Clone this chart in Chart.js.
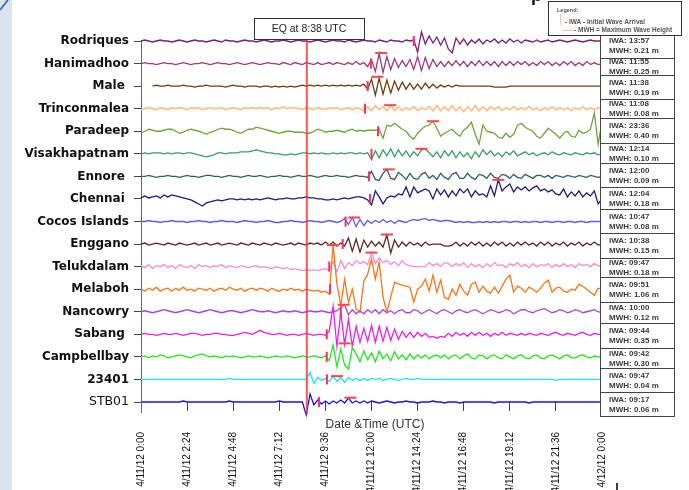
<!DOCTYPE html>
<html>
<head>
<meta charset="utf-8">
<title>Tide gauge records - 11 April 2012</title>
<script src="https://cdn.jsdelivr.net/npm/chart.js@4.4.0/dist/chart.umd.min.js"></script>
<style>
    html, body { margin: 0; padding: 0; background: #fff; }
    #wrap { position: relative; width: 689px; height: 490px; overflow: hidden; }
</style>
</head>
<body>
<div id="wrap"><canvas id="chart" width="689" height="490"></canvas></div>
<script>
// ---- data ----
// stations, top to bottom
const stations = ['Rodriques', 'Hanimadhoo', 'Male ', 'Trinconmalea', 'Paradeep', 'Visakhapatnam',
    'Ennore ', 'Chennai ', 'Cocos Islands', 'Enggano', 'Telukdalam', 'Melaboh', 'Nancowry',
    'Sabang ', 'Campbellbay', '23401', 'STB01'];

// x axis: hours since 4/11/12 0:00
const xTickHours = [0, 2.4, 4.8, 7.2, 9.6, 12, 14.4, 16.8, 19.2, 21.6, 24];
const xTickLabels = ['4/11/12 0:00', '4/11/12 2:24', '4/11/12 4:48', '4/11/12 7:12', '4/11/12 9:36',
    '4/11/12 12:00', '4/11/12 14:24', '4/11/12 16:48', '4/11/12 19:12', '4/11/12 21:36', '4/12/12 0:00'];
const EQ_HOUR = 8 + 38 / 60;
const STEP_HOURS = 0.2; // each series is sampled every 0.2 h from 0:00

// water level deviation of each record (one value per 0.2 h)
const rodriques = [
    0, 1, 0, -1, 0, 1, 0, 0, -1, 0,
    1, 0, -1, 0, 1, 0, 0, -1, 0, 1,
    0, -1, 1, 0, 0, -1, 0, 1, 0, 0,
    -1, 0, 1, 0, -1, 0, 0, 1, 0, -1,
    0, 1, 0, 0, -1, 0, 1, 0, -1, 0,
    1, 0, 0, -1, 1, 0, -1, 0, 1, 0,
    0, -1, 1, 0, -1, 1, 0, 0, -1, 1,
    0, 1, -11, 9, -3, 5, -2, 4, -4, 3,
    -8, -12, 3, -3, 2, -4, 1, -2, 2, -3,
    1, -1, 2, -2, 1, -2, 2, -1, 1, -2,
    1, 0, -1, 1, -1, 0, 1, -1, 0, 1,
    0, -1, 0, 1, 0, -1, 0, 1, 0, 0,
    0];
const hanimadhoo = [
    0, 1, 0, 0, -1, 0, 1, 0, 0, -1,
    0, 1, 0, -1, 0, 0, 1, 0, -1, 0,
    1, 0, 0, -1, 0, 1, 0, -1, 0, 1,
    0, -1, 0, 1, 0, 0, -1, 1, 0, -1,
    1, 0, -1, 1, 0, -1, 1, -1, 0, 1,
    -1, 1, 0, -1, 1, -1, 2, -1, 1, -3,
    4, -8, 10, -9, 7, -6, 5, -4, 3, -3,
    4, -6, 7, -7, 6, -5, 4, -3, 2, -3,
    2, -2, 3, -2, 2, -3, 2, -2, 3, -2,
    2, -2, 2, -3, 2, -2, 2, -2, 2, -1,
    2, -2, 1, -2, 2, -1, 2, -2, 1, -2,
    2, -1, 2, -2, 1, -2, 2, -1, 1, -1,
    0];
const male = [
    null, null, null, 0, 1, 0, 0, 1, 0, 0,
    0, 1, 0, 0, -1, 0, 0, 1, 0, 0,
    0, 0, -1, 0, 1, 0, 0, -1, 0, 0,
    0, -1, 0, 0, -1, 0, -1, 0, -1, 0,
    -1, 0, 1, 0, 1, 0, 1, 0, 1, 0,
    1, 0, 1, 0, 1, 0, 1, 0, 2, -3,
    7, -9, 8, -8, 6, -7, 5, -4, 4, -3,
    3, -3, 2, -3, 3, -2, 2, -2, 1, -1,
    1, -1, 1, 0, 0, 0, 0, 0, 0, 0,
    0, 0, -1, -1, -1, -1, 0, 0, 0, 0,
    0, 0, 0, 0, 0, 0, 0, 0, 0, 0,
    0, 0, 0, 0, 0, 0, 0, 0, 0, 0,
    0];
const trinconmalea = [
    -1, 0, 1, 0, -1, 1, 0, -1, 1, 0,
    1, 0, -1, 1, 0, 1, -1, 0, 1, 0,
    0, 1, -1, 0, 1, 0, -1, 1, 0, 1,
    0, 1, 0, 1, -1, 1, 0, 2, 0, 1,
    1, 0, -1, 1, 0, -1, 1, 0, -1, 1,
    0, 1, -1, 0, 1, -1, 1, 0, -2, 2,
    -2, 3, -1, 2, -2, 3, -2, 2, -2, 1,
    -1, 2, -2, 1, -1, 2, -2, 3, -2, 2,
    -2, 3, -2, 2, -3, 2, -2, 3, -2, 2,
    -2, 2, -1, 2, -2, 1, -1, 2, -1, 1,
    -1, 2, -1, 1, -2, 1, -1, 2, -1, 1,
    -1, 1, -2, 1, -1, 2, -1, 1, -1, 1,
    0];
const paradeep = [
    -2, 0, 2, 1, 0, 0, 1, 2, 2, 0,
    -2, -1, 1, 2, 1, 0, -1, -3, -1, 0,
    2, 3, 2, 2, 1, -1, -2, 0, 2, 2,
    4, 3, 2, 1, 0, -1, -2, -1, 0, 0,
    -1, -1, -1, -2, -2, 0, 2, 1, -1, 0,
    0, 1, 0, -1, 1, 2, 0, 1, 0, 1,
    1, 1, 2, -7, 6, 5, 8, 5, 2, 0,
    -5, -8, -2, 2, 5, 6, 10, 3, -5, -2,
    0, 2, -2, -5, 1, 4, 9, -3, -13, 6,
    0, -1, -2, -6, -7, -2, -6, -3, 6, 8,
    4, 2, 0, -5, -7, -2, 3, 0, -3, -7,
    -2, 0, -5, -6, 1, -2, -1, 2, 18, -13,
    10];
const visakhapatnam = [
    0, 1, 0, 1, 1, 1, 0, 1, 0, 1,
    1, 0, 1, 1, 0, -1, -2, -3, -2, -1,
    1, 1, 0, 1, 1, 1, 2, 2, 2, 3,
    4, 3, 2, 1, 1, 0, 0, -1, -1, 0,
    -1, 0, 1, 1, 0, 1, 0, 1, 0, 0,
    1, 0, 1, 0, 1, 1, 0, 1, 0, 1,
    -6, 3, -4, 4, -2, 5, -3, 4, -2, 3,
    -3, 2, -2, 4, 5, 1, -3, 2, -4, 3,
    -2, 3, -4, 2, -3, 1, -5, 2, -3, 4,
    -1, 3, -2, 1, -3, 2, -1, 3, -2, 0,
    2, -1, 1, -2, 0, 1, -1, 2, 0, -1,
    1, 0, -1, 1, 0, -1, 1, 0, 1, -1,
    0];
const ennore = [
    0, 0, 1, 0, -1, 0, 0, 1, 0, 0,
    -1, 0, 1, 0, 0, -1, 0, 1, 1, 0,
    0, -1, 0, 1, 0, 0, -1, 0, 1, 0,
    0, 1, 0, -1, 0, 0, 1, 0, 0, -1,
    0, 1, 0, 0, 1, 0, -1, 0, 1, 0,
    0, 1, 0, 0, -1, 0, 1, 0, 0, -1,
    5, -3, -4, 3, 7, -2, -3, 4, 1, -3,
    3, -2, -3, 2, 4, -2, 1, -3, 3, -1,
    -3, 2, 4, -2, -2, 3, -1, -3, 2, 1,
    -2, 3, -1, -2, 2, 1, -2, 2, -1, -2,
    2, 0, -2, 1, 1, -1, 1, -2, 1, 0,
    -1, 1, 0, -1, 1, 0, -1, 1, 0, -1,
    0];
const chennai = [
    1, 3, 1, 2, 3, 1, 4, 2, 4, 3,
    2, 1, 0, -1, -3, -5, -7, -4, -3, -2,
    -1, -2, -1, 0, 0, -1, 0, -1, 0, -1,
    0, -1, 0, 1, 0, -1, 0, 0, 1, 0,
    0, 1, 1, 2, 1, 1, 0, 0, -1, -1,
    0, -1, 0, 1, 0, 1, 2, 2, 1, -1,
    -6, 8, 2, -5, 1, 3, 2, 5, 4, 12,
    2, 12, 6, 8, 10, 8, 0, 10, 4, 9,
    2, 8, 3, 10, 6, 10, 2, 8, 4, 5,
    2, 13, 3, 19, 8, 12, 15, 7, 12, 9,
    12, 8, 11, 13, 8, 10, 7, 9, 5, 4,
    10, 2, 7, 3, 8, 2, 6, 3, 8, -5,
    0];
const cocosIslands = [
    0, 0, 1, 0, 0, -1, 0, 0, 1, 0,
    0, 0, -1, 0, 0, 1, 0, 0, -1, 0,
    0, 1, 0, 0, 0, -1, 0, 1, 0, 0,
    -1, 0, 0, 1, 0, -1, -1, 0, 0, 1,
    0, 0, -1, 0, 1, 0, 0, -1, 0, 1,
    0, -1, 0, 3, -3, 4, -5, 2, -4, 1,
    -2, 1, -1, 2, -1, 1, -2, 1, 0, -1,
    1, 2, 1, 2, 3, 1, 2, 1, 0, 1,
    1, 0, -1, 0, -1, 0, -1, -1, 0, -1,
    0, -1, 0, -1, 0, 0, -1, 0, 0, -1,
    0, -1, 0, 0, -1, 0, 0, -1, 0, 0,
    -1, 0, 0, -1, 0, 0, -1, 0, 0, 0,
    0];
const enggano = [
    0, 1, -1, 0, 1, 0, -1, 1, 0, -1,
    1, 0, -1, 0, 1, -1, 0, 1, -1, 0,
    1, -1, 0, 1, 0, -1, 1, 0, -1, 1,
    0, -1, 1, 0, -1, 1, 0, -1, 0, 1,
    -1, 1, 0, -1, 1, 0, 1, -1, 2, -1,
    2, -2, 1, -2, 6, -7, 5, -8, 4, -3,
    3, -2, 2, -3, 9, -9, 4, -3, 2, -2,
    2, -1, 1, -2, 2, -1, 0, 0, 0, -2,
    -2, -1, 2, -2, 1, -2, 2, -1, 2, -2,
    1, -2, 2, -1, 2, -2, 1, -2, 2, -1,
    2, -1, 1, -2, 2, -1, 2, -2, 1, -1,
    2, -2, 1, -1, 2, -2, 1, -1, 2, -1,
    0];
const telukdalam = [
    1, -1, 2, -2, 1, 0, 2, -1, 1, -2,
    2, 0, -1, 1, -2, 2, 0, 1, -1, 1,
    0, 2, -1, 1, 0, -1, 1, 0, -1, 0,
    1, -1, 0, -1, -2, 0, -1, -2, -1, -3,
    -2, -3, -4, -3, -4, -3, -4, -3, -2, -4,
    5, -5, 6, -2, 4, 1, 6, 3, 5, 2,
    14, 3, 9, 4, 6, 2, 5, 1, 6, 2,
    1, 0, 0, 0, 0, 4, 1, 3, 0, 4,
    3, 0, 3, 1, 4, -1, 3, 0, 2, -1,
    3, 0, 4, 1, 2, -1, 3, 1, 4, 0,
    2, -1, 3, 0, 2, 1, 3, -1, 2, 0,
    3, 0, 2, -1, 3, 1, 2, 0, 3, 1,
    0];
const melaboh = [
    0, -2, 1, -1, 2, -2, 0, 1, -2, 1,
    -1, 2, -1, 0, -2, 1, 0, -1, 1, -2,
    0, 1, -1, 2, 0, -1, 1, -2, 0, 1,
    -1, 1, 0, -2, 1, -1, -2, 0, -1, 1,
    -1, 0, -2, 0, -1, -2, -1, -3, -2, -5,
    44, 5, -16, 10, -13, 0, -20, -23, 8, 15,
    30, 10, 27, -8, -23, -8, 7, 5, 4, 3,
    2, -13, 0, 3, 10, -2, 14, -3, 9, -8,
    -10, 0, -6, 5, -2, -6, 5, 7, -3, 3,
    -2, -4, 2, -4, 3, 10, 14, -3, 3, 1,
    -3, 2, 0, -3, 1, 6, 9, -3, 1, 2,
    -2, -3, 0, -1, 5, 3, 0, -3, -6, 1,
    0];
const nancowry = [
    0, 1, 0, -1, 0, 1, 2, 1, 0, -1,
    0, 1, 2, 1, 0, -1, 0, 1, 2, 1,
    0, -1, 0, 1, 1, 0, -1, 0, 1, 2,
    1, 0, 0, 1, 0, -1, 0, 1, 0, 0,
    1, 0, -1, 0, 1, 0, 0, 1, 0, -1,
    0, 1, 4, 7, -3, 2, -2, 1, -2, 2,
    -1, 2, -2, 2, -1, 1, -2, 1, 2, -1,
    -1, 2, 1, -2, 0, 2, 0, -2, 1, 2,
    0, -2, 1, 2, 0, -1, 1, 2, 0, -2,
    0, 2, 1, -1, 0, 2, 1, -2, 0, 2,
    2, 0, -1, 1, 2, 3, 1, -1, 0, 2,
    1, -1, 0, 2, 1, -1, 0, 1, 2, 0,
    -1];
const sabang = [
    0, 1, 0, 0, -1, 0, 1, 0, 0, 1,
    0, -1, 0, 1, 1, 0, -1, 0, 0, 1,
    1, 0, 0, -1, -1, 0, 1, 2, 1, 0,
    2, 4, 2, 1, 0, 0, 1, 0, -1, 0,
    0, -1, 0, 1, 0, -1, 0, 0, -1, 3,
    28, -12, 22, -10, 15, -12, 8, -8, 6, -7,
    9, -8, 8, -7, 7, -6, 5, -5, 3, -3,
    2, -3, 2, -2, 1, -3, -2, -4, -2, -3,
    1, -2, 2, -1, 1, -2, 2, -1, 2, -1,
    1, -2, 1, -1, 2, -1, 1, 0, -1, 1,
    -1, 1, 0, -1, 1, 0, -1, 1, 2, 0,
    -1, 1, 0, -1, 1, 2, 0, -1, 1, 0,
    0];
const campbellbay = [
    0, 1, -1, 1, 0, 2, 1, -1, 0, 1,
    2, 1, 0, -1, 1, 2, 3, 1, 0, 1,
    0, -1, 1, 0, 1, 0, -1, 0, 1, 0,
    0, 1, 0, -1, 0, 1, 0, 0, 1, 0,
    -1, 0, 1, 0, 0, 1, 0, -1, 1, -4,
    12, -10, 8, -8, -12, 9, 3, -5, 6, -3,
    4, -5, 6, -2, 3, -4, 5, -2, 2, -3,
    3, -2, 2, -1, 2, -2, 1, 2, -1, 2,
    -2, 1, 2, -2, 1, 3, -1, -2, 2, 1,
    -2, 1, 2, -1, -2, 2, 0, -2, 1, 2,
    -1, -2, 1, 2, -1, -2, 1, 2, 0, -2,
    1, 2, -1, -1, 1, 2, 0, -1, 1, 0,
    0];
const buoy23401 = [
    0, 0, 0, 0, 0, 0, 0, 0, 0, 0,
    0, 0, 0, 0, 0, 0, 0, 0, 0, 0,
    0, 0, 0, 1, 0, 0, 0, 0, 0, 0,
    0, 0, 0, 0, 0, 0, 0, 0, 0, 0,
    0, 0, 0, 0, 7, -4, 2, -1, 1, -2,
    3, -2, 2, -3, 2, -1, 1, -1, 1, -1,
    1, 0, 1, -1, 0, 1, 0, -1, 0, 1,
    0, 0, 1, 0, 0, 0, 0, 0, 0, 0,
    0, 0, 0, 0, 0, 0, 0, 0, 0, 0,
    0, 0, 0, 0, 0, 0, 0, 0, 0, 0,
    0, 0, 0, 0, 0, 0, 0, 0, -1, 0,
    0, 0, 0, 0, 0, 0, 0, 0, 0, 0,
    0];
const stb01 = [
    0, 0, 0, 0, 0, 0, 0, 0, 0, 0,
    0, 1, 0, 0, 0, 0, 0, 0, 0, 0,
    0, 0, 0, 1, 0, 0, 0, 0, 0, 0,
    0, 0, 0, 0, 0, 0, 1, 0, 0, 0,
    0, 0, 0, -13, 8, -3, 2, -2, 1, -2,
    1, -1, 2, -1, 4, -1, 1, -1, 1, -1,
    1, 0, -1, 0, 1, 0, -1, 0, 0, 1,
    0, 0, -1, 0, 0, 0, 1, 0, 0, -1,
    0, 0, 0, -1, 0, 0, 0, 0, 0, 0,
    0, 0, -1, 0, 0, 0, 0, 0, 0, 0,
    0, -1, 0, 0, 0, 0, 0, 0, 0, 0,
    0, 0, 0, 0, 0, 0, 0, 0, 0, 0,
    0];

const series = [rodriques, hanimadhoo, male, trinconmalea, paradeep, visakhapatnam, ennore, chennai,
    cocosIslands, enggano, telukdalam, melaboh, nancowry, sabang, campbellbay, buoy23401, stb01];

// where the red marks sit on each record (hours, deviation)
const iwaMarkHour = [14.2, 11.97, 11.8, 11.66, 12.34, 12.0, 11.87, 11.92, 10.65, 10.5, 9.8, 9.84, 10.4, 9.67, 9.67, 9.68, 9.27];
const mwhMarkHour = [14.6, 12.5, 12.3, 12.97, 15.2, 14.6, 12.9, 18.6, 11.1, 12.8, 12.0, 10.0, 10.55, 10.6, null, 10.2, 10.9];
const mwhMarkDev = [9.5, 10.5, 9.3, 3.5, 10, 5, 7, 19, 4, 9.5, 14, 44, 7, -9, null, 3.3, 4.3];

// text in the boxes on the right
const iwaText = ['13:57', '11:55', '11:38', '11:08', '23:36', '12:14', '12:00', '12:04', '10:47',
    '10:38', '09:47', '09:51', '10:00', '09:44', '09:42', '09:47', '09:17'];
const mwhText = ['0.21', '0.25', '0.19', '0.08', '0.40', '0.10', '0.09', '0.18', '0.08',
    '0.15', '0.18', '1.06', '0.12', '0.35', '0.30', '0.04', '0.06'];

// ---- styles / layout ----
const lineColors = ['#7a1f7a', '#a03a78', '#6e3c0e', '#fbbf88', '#72a53a', '#3c9e64', '#2f6262', '#1c1c82',
    '#5b5bf5', '#5e2626', '#ff8cc6', '#ff7414', '#aa44dd', '#ee1eee', '#1eea1e', '#1ee6ee', '#1414f0'];
const SPACING = 22.5;
const TOP_VALUE = (stations.length - 1) * SPACING;
const baseOf = i => (stations.length - 1 - i) * SPACING;
const BOX_EDGES = [33, 58, 75, 99, 118, 143, 163, 187, 209, 233, 258, 277, 302, 323, 348, 368, 392, 416];

const traceSets = series.map((dev, i) => ({
    type: 'line',
    label: stations[i].trim(),
    data: dev.map((v, k) => ({ x: k * STEP_HOURS, y: v === null ? null : baseOf(i) + v })),
    borderColor: lineColors[i],
    borderWidth: i === 3 ? 1.7 : 1.3,
    pointRadius: 0,
    tension: 0,
    spanGaps: false,
    clip: false,
    order: stations.length - i
}));

const iwaSet = {
    type: 'scatter',
    label: 'IWA',
    data: iwaMarkHour.map((h, i) => ({ x: h, y: baseOf(i) })),
    pointStyle: 'line',
    rotation: 90,
    pointRadius: 5,
    pointBorderWidth: 2,
    pointBorderColor: '#ff2a6a',
    borderColor: '#ff2a6a',
    clip: false,
    order: -1
};
const mwhSet = {
    type: 'scatter',
    label: 'MWH',
    data: mwhMarkHour.map((h, i) => h === null ? null : ({ x: h, y: baseOf(i) + mwhMarkDev[i] })).filter(p => p),
    pointStyle: 'line',
    pointRadius: 6,
    pointBorderWidth: 2,
    pointBorderColor: '#ff4545',
    borderColor: '#ff4545',
    clip: false,
    order: -2
};

// boxes, labels and frame drawn on top of the chart
const decorPlugin = {
    id: 'decor',
    beforeDraw(chart) {
        const ctx = chart.ctx;
        ctx.save();
        ctx.fillStyle = '#fff';
        ctx.fillRect(0, 0, chart.width, chart.height);
        // slide frame on the left
        ctx.fillStyle = '#dae3ef';
        ctx.fillRect(0, 0, 12, chart.height);
        ctx.strokeStyle = '#4a72b0';
        ctx.lineWidth = 2;
        ctx.beginPath();
        ctx.moveTo(0, 10);
        ctx.lineTo(8, 0);
        ctx.stroke();
        ctx.restore();
    },
    afterDatasetsDraw(chart) {
        const ctx = chart.ctx;
        const xs = chart.scales.x;
        const area = chart.chartArea;
        ctx.save();
        // y axis line continues a little below the last record
        ctx.strokeStyle = '#666';
        ctx.lineWidth = 1;
        ctx.beginPath();
        ctx.moveTo(area.left + 0.5, area.bottom);
        ctx.lineTo(area.left + 0.5, area.bottom + 11);
        ctx.stroke();

        // earthquake time
        const ex = xs.getPixelForValue(EQ_HOUR);
        ctx.strokeStyle = 'rgba(255, 55, 55, 0.85)';
        ctx.lineWidth = 2;
        ctx.beginPath();
        ctx.moveTo(ex, 39);
        ctx.lineTo(ex, area.bottom + 12);
        ctx.stroke();
        ctx.restore();
    },
    afterDraw(chart) {
        const ctx = chart.ctx;
        ctx.save();

        // EQ box
        ctx.fillStyle = '#fff';
        ctx.fillRect(254, 18, 110, 21);
        ctx.strokeStyle = '#333';
        ctx.lineWidth = 1;
        ctx.strokeRect(254.5, 18.5, 110, 21);
        ctx.fillStyle = '#222';
        ctx.font = '10.5px "Liberation Sans", Arial, sans-serif';
        ctx.textAlign = 'center';
        ctx.textBaseline = 'middle';
        ctx.fillText('EQ at 8:38 UTC', 309, 29.5);

        // IWA / MWH boxes
        ctx.textAlign = 'left';
        ctx.font = 'bold 8px "Liberation Sans", Arial, sans-serif';
        for (let i = 0; i < stations.length; i++) {
            const top = BOX_EDGES[i], bottom = BOX_EDGES[i + 1];
            const mid = (top + bottom) / 2;
            ctx.fillStyle = '#fff';
            ctx.fillRect(600, top, 74, bottom - top);
            ctx.strokeStyle = '#444';
            ctx.strokeRect(600.5, top + 0.5, 74, bottom - top);
            ctx.fillStyle = '#3a3a3a';
            ctx.fillText('IWA: ' + iwaText[i], 609, mid - 4.5);
            ctx.fillText('MWH: ' + mwhText[i] + ' m', 609, mid + 5.5);
        }

        // legend box
        ctx.fillStyle = '#fff';
        ctx.fillRect(548, 1, 133, 34);
        ctx.strokeStyle = '#333';
        ctx.strokeRect(548.5, 1.5, 133, 34);
        ctx.strokeStyle = '#f2c8b8';
        ctx.beginPath();
        ctx.moveTo(560.5, 14);
        ctx.lineTo(560.5, 25);
        ctx.moveTo(562, 30.5);
        ctx.lineTo(573, 30.5);
        ctx.stroke();
        ctx.fillStyle = '#555';
        ctx.font = 'bold 5.5px "Liberation Sans", Arial, sans-serif';
        ctx.fillText('Legend:', 557, 10);
        ctx.font = 'bold 6.5px "Liberation Sans", Arial, sans-serif';
        ctx.fillText('- IWA - Initial Wave Arrival', 565, 22);
        ctx.fillText('- MWH = Maximum Wave Height', 574, 30);

        // cut-off title at the very top
        ctx.fillStyle = '#111';
        ctx.font = 'bold 18px "Liberation Sans", Arial, sans-serif';
        ctx.textBaseline = 'alphabetic';
        ctx.fillText('p', 531, 1);

        // x axis title
        ctx.fillStyle = '#333';
        ctx.font = '12px "Liberation Sans", Arial, sans-serif';
        ctx.textAlign = 'center';
        ctx.textBaseline = 'middle';
        ctx.fillText('Date &Time (UTC)', 375, 425);

        // stray mark bottom right
        ctx.strokeStyle = '#000';
        ctx.lineWidth = 1.5;
        ctx.beginPath();
        ctx.moveTo(617, 483);
        ctx.lineTo(617, 490);
        ctx.stroke();
        ctx.restore();
    }
};

new Chart(document.getElementById('chart'), {
    type: 'line',
    data: { datasets: [...traceSets, iwaSet, mwhSet] },
    options: {
        responsive: false,
        animation: false,
        events: [],
        layout: { padding: { top: 41, right: 87, left: 0, bottom: 0 } },
        plugins: { legend: { display: false }, tooltip: { enabled: false } },
        scales: {
            x: {
                type: 'linear',
                position: 'bottom',
                min: 0,
                max: 24,
                afterBuildTicks: s => { s.ticks = xTickHours.map(v => ({ value: v })); },
                afterFit: s => { s.height = 88; },
                border: { display: false },
                grid: { drawOnChartArea: false, drawTicks: true, tickLength: 9, color: '#444' },
                ticks: {
                    autoSkip: false,
                    minRotation: 90,
                    maxRotation: 90,
                    padding: 21,
                    color: '#111',
                    font: { family: '"Liberation Sans", Arial, sans-serif', size: 10 },
                    callback: (v, idx) => xTickLabels[idx]
                }
            },
            y: {
                type: 'linear',
                position: 'left',
                min: 0,
                max: TOP_VALUE,
                afterBuildTicks: s => { s.ticks = stations.map((_, i) => ({ value: baseOf(i) })); },
                afterFit: s => { s.width = 141; },
                border: { display: true, color: '#666', width: 1 },
                grid: { drawOnChartArea: false, drawTicks: true, tickLength: 7, color: '#444' },
                ticks: {
                    autoSkip: false,
                    padding: 5,
                    color: '#111',
                    font: ctx => ctx.index === stations.length - 1
                        ? { family: '"DejaVu Sans", sans-serif', size: 12.5, weight: 'normal' }
                        : { family: '"DejaVu Sans", sans-serif', size: 12, weight: 'bold' },
                    callback: (v, idx) => stations[idx]
                }
            }
        }
    },
    plugins: [decorPlugin]
});
</script>
</body>
</html>
